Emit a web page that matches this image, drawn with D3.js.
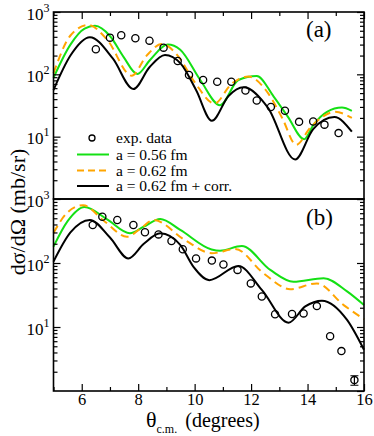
<!DOCTYPE html>
<html>
<head>
<meta charset="utf-8">
<script src="https://cdn.jsdelivr.net/npm/d3@7"></script>
<style>
  body { margin: 0; background: #fff; }
  svg text { font-family: "Liberation Serif", "DejaVu Serif", serif; fill: #000; }
</style>
</head>
<body>
<div id="chart"></div>
<script>
// --- data -----------------------------------------------------------------
var xDomain = [5, 16];
var yDomain = [1, 1000];
var xTickValues = [6, 8, 10, 12, 14, 16];
var xMinorValues = [5, 7, 9, 11, 13, 15];
var yDecades = [1, 10, 100, 1000];
var yLabelDecades = [10, 100, 1000];

// panel (a)
var expA_theta = [6.5, 7.0, 7.4, 7.9, 8.4, 8.9, 9.4, 9.8, 10.3, 10.8, 11.3, 11.8, 12.2, 12.7, 13.2, 13.7, 14.2, 14.6, 15.1];
var expA_sigma = [252, 388, 423, 379, 347, 268, 164, 98, 81, 76, 76, 55, 38, 30, 26, 17.3, 17.5, 15.6, 11.4];

var greenA_theta = [5.0, 5.6, 6.1, 6.47, 7.0, 7.48, 7.97, 8.42, 9.05, 9.49, 10.2, 10.9, 11.55, 12.2, 12.8, 13.3, 13.88, 14.21, 14.69, 15.22, 15.57];
var greenA_sigma = [88, 300, 540, 600, 412, 191, 101, 170, 300, 247, 81, 32, 81, 94, 44, 21, 9.1, 15.5, 25, 29.3, 26];

var orangeA_theta = [5.0, 5.6, 6.23, 6.9, 7.77, 8.3, 8.84, 9.4, 10.0, 10.7, 11.3, 11.9, 12.6, 13.1, 13.6, 14.1, 14.98, 15.57];
var orangeA_sigma = [104, 420, 620, 360, 95, 200, 306, 200, 75, 34, 70, 92, 50, 20, 7.4, 14, 25, 20];

var blackA_theta = [5.0, 5.6, 6.29, 7.1, 7.83, 8.4, 8.95, 9.5, 10.05, 10.61, 11.2, 11.73, 12.6, 13.56, 14.2, 14.95, 15.57];
var blackA_sigma = [56, 200, 393, 180, 58, 130, 205, 150, 56, 18, 45, 62, 29, 4.3, 13.2, 20.6, 12];

// panel (b)
var expB_theta = [6.39, 6.73, 7.26, 7.83, 8.24, 8.72, 9.18, 9.58, 10.05, 10.61, 11.02, 11.52, 11.99, 12.38, 12.85, 13.45, 13.86, 14.33, 14.8, 15.2, 15.66];
var expB_sigma = [393, 529, 471, 393, 302, 280, 221, 164, 118, 109, 95, 78, 48, 30, 15.8, 16, 16.3, 21.2, 7.2, 4.2, 1.48];
var expB_err = [0, 0, 0, 0, 0, 0, 0, 0, 0, 0, 0, 0, 0, 0, 0, 0, 0, 0, 0, 0, 0.25];

var greenB_theta = [5.0, 5.5, 6.1, 6.9, 7.71, 8.2, 8.78, 9.49, 10.6, 10.9, 11.67, 12.68, 13.5, 14.57, 15.4, 16.0];
var greenB_sigma = [180, 450, 750, 480, 291, 370, 487, 329, 163, 156, 184, 78, 51, 58, 36, 22];

var orangeB_theta = [5.0, 5.5, 6.05, 6.8, 7.6, 8.1, 8.54, 9.66, 10.61, 11.44, 12.44, 13.39, 14.33, 15.28, 16.0];
var orangeB_sigma = [295, 620, 800, 450, 258, 350, 470, 228, 142, 165, 69, 39, 48, 22, 13.2];

var blackB_theta = [5.0, 5.6, 6.29, 7.0, 7.65, 8.2, 8.78, 9.49, 9.96, 10.52, 11.55, 12.38, 13.33, 13.92, 14.51, 15.4, 16.0];
var blackB_sigma = [105, 300, 470, 250, 118, 200, 291, 192, 87, 54, 90, 38, 11.7, 21, 25.8, 12.9, 4.4];

var legendLabels = ["exp. data", "a = 0.56 fm", "a = 0.62 fm", "a = 0.62 fm + corr."];
var panelNames = ["(a)", "(b)"];

// --- layout -----------------------------------------------------------------
var width = 374, height = 436;
// (don't call it "top": window.top is read-only)
var plotLeft = 53.5, plotRight = 364, plotTop = 12, plotMid = 199, plotBottom = 391;
var GREEN = "#14e014", ORANGE = "#ffa500";

var svg = d3.select("#chart").append("svg")
  .attr("width", width)
  .attr("height", height);

var x = d3.scaleLinear().domain(xDomain).range([plotLeft, plotRight]);

function pairs(xs, ys) {
  return xs.map(function (d, i) { return [d, ys[i]]; });
}

function minorLogTicks() {
  var out = [];
  [1, 10, 100].forEach(function (p) {
    for (var k = 2; k <= 9; k++) out.push(k * p);
  });
  return out;
}

// draws one panel: frame, ticks, curves, data
function drawPanel(y0, y1, opt) {
  var y = d3.scaleLog().domain(yDomain).range([y1, y0]);
  var g = svg.append("g");

  var line = d3.line()
    .x(function (d) { return x(d[0]); })
    .y(function (d) { return y(d[1]); })
    .curve(d3.curveMonotoneX);

  // curves
  g.append("path").datum(pairs(opt.green[0], opt.green[1]))
    .attr("fill", "none").attr("stroke", GREEN).attr("stroke-width", 2).attr("d", line);
  g.append("path").datum(pairs(opt.orange[0], opt.orange[1]))
    .attr("fill", "none").attr("stroke", ORANGE).attr("stroke-width", 2)
    .attr("stroke-dasharray", "8,5").attr("d", line);
  g.append("path").datum(pairs(opt.black[0], opt.black[1]))
    .attr("fill", "none").attr("stroke", "#000").attr("stroke-width", 2).attr("d", line);

  // exp. data
  var pts = opt.exp[0].map(function (t, i) {
    return { t: t, s: opt.exp[1][i], e: opt.err ? opt.err[i] : 0 };
  });
  var withErr = pts.filter(function (d) { return d.e > 0; });
  g.selectAll(".err").data(withErr).join("path")
    .attr("class", "err")
    .attr("fill", "none").attr("stroke", "#000").attr("stroke-width", 1.2)
    .attr("d", function (d) {
      var cx = x(d.t), ya = y(d.s + d.e), yb = y(d.s - d.e);
      return "M" + cx + "," + ya + "V" + yb +
        "M" + (cx - 4) + "," + ya + "H" + (cx + 4) +
        "M" + (cx - 4) + "," + yb + "H" + (cx + 4);
    });
  g.selectAll("circle").data(pts).join("circle")
    .attr("cx", function (d) { return x(d.t); })
    .attr("cy", function (d) { return y(d.s); })
    .attr("r", 3.6)
    .attr("fill", "none")
    .attr("stroke", "#000")
    .attr("stroke-width", 1.3);

  // y axes, ticks inward
  var yl = g.append("g").attr("transform", "translate(" + plotLeft + ",0)")
    .call(d3.axisLeft(y).tickValues(yLabelDecades).tickSize(-7).tickSizeOuter(0).tickPadding(4));
  yl.call(function (a) { a.select(".domain").remove(); });
  yl.selectAll(".tick text").each(function (d) {
    var t = d3.select(this).text("").attr("dy", null).attr("y", 7)
      .style("font-size", "17px");
    t.append("tspan").text("10");
    t.append("tspan").text(Math.round(Math.log10(d)))
      .attr("dy", -8).style("font-size", "12px");
  });
  g.append("g").attr("transform", "translate(" + plotLeft + ",0)")
    .call(d3.axisLeft(y).tickValues(minorLogTicks()).tickSize(-4).tickSizeOuter(0).tickFormat(""))
    .call(function (a) { a.select(".domain").remove(); });

  g.append("g").attr("transform", "translate(" + plotRight + ",0)")
    .call(d3.axisRight(y).tickValues(yDecades).tickSize(-7).tickSizeOuter(0).tickFormat(""))
    .call(function (a) { a.select(".domain").remove(); });
  g.append("g").attr("transform", "translate(" + plotRight + ",0)")
    .call(d3.axisRight(y).tickValues(minorLogTicks()).tickSize(-4).tickSizeOuter(0).tickFormat(""))
    .call(function (a) { a.select(".domain").remove(); });

  g.selectAll(".tick line").attr("stroke", "#000").attr("stroke-width", 1.2);

  // frame
  g.append("rect")
    .attr("x", plotLeft).attr("y", y0)
    .attr("width", plotRight - plotLeft).attr("height", y1 - y0)
    .attr("fill", "none").attr("stroke", "#000").attr("stroke-width", 1.6);

  // panel tag
  g.append("text").attr("x", 306).attr("y", opt.tagY)
    .style("font-size", "23px").text(opt.tag);

  return { g: g, y: y };
}

var pa = drawPanel(plotTop, plotMid, {
  green: [greenA_theta, greenA_sigma],
  orange: [orangeA_theta, orangeA_sigma],
  black: [blackA_theta, blackA_sigma],
  exp: [expA_theta, expA_sigma],
  tag: panelNames[0], tagY: 37
});

var pb = drawPanel(plotMid, plotBottom, {
  green: [greenB_theta, greenB_sigma],
  orange: [orangeB_theta, orangeB_sigma],
  black: [blackB_theta, blackB_sigma],
  exp: [expB_theta, expB_sigma],
  err: expB_err,
  tag: panelNames[1], tagY: 225
});

// top x ticks of panel (a)
var xt = svg.append("g").attr("transform", "translate(0," + plotTop + ")");
xt.append("g").call(d3.axisTop(x).tickValues(xTickValues).tickSize(-7).tickSizeOuter(0).tickFormat(""));
xt.append("g").call(d3.axisTop(x).tickValues(xMinorValues).tickSize(-4).tickSizeOuter(0).tickFormat(""));
xt.selectAll(".domain").remove();

// bottom x axis of panel (b)
var xb = svg.append("g").attr("transform", "translate(0," + plotBottom + ")");
xb.append("g").call(d3.axisBottom(x).tickValues(xTickValues).tickSize(-7).tickSizeOuter(0).tickPadding(2))
  .selectAll("text").style("font-size", "16.5px");
xb.append("g").call(d3.axisBottom(x).tickValues(xMinorValues).tickSize(-4).tickSizeOuter(0).tickFormat(""));
xb.selectAll(".domain").remove();
svg.selectAll(".tick line").attr("stroke", "#000").attr("stroke-width", 1.2);

// axis titles
var xl = svg.append("text").attr("x", 146).attr("y", 427);
xl.append("tspan").style("font-size", "22px").text("θ");
xl.append("tspan").style("font-size", "12px").attr("dy", 6).text("c.m.");
xl.append("tspan").style("font-size", "20px").attr("dy", -6).attr("dx", 8).text("(degrees)");

svg.append("text")
  .attr("transform", "translate(25,212) rotate(-90)")
  .attr("text-anchor", "middle")
  .style("font-size", "22px")
  .text("dσ/dΩ (mb/sr)");

// legend (sits inside panel a)
var leg = svg.append("g");
leg.append("circle").attr("cx", 92).attr("cy", 138).attr("r", 3)
  .attr("fill", "none").attr("stroke", "#000").attr("stroke-width", 1.3);
var legLines = [
  { y: 154.5, c: GREEN, dash: null },
  { y: 170.5, c: ORANGE, dash: "7,4" },
  { y: 186, c: "#000", dash: null }
];
leg.selectAll("line").data(legLines).join("line")
  .attr("x1", 77).attr("x2", 109)
  .attr("y1", function (d) { return d.y; }).attr("y2", function (d) { return d.y; })
  .attr("stroke", function (d) { return d.c; })
  .attr("stroke-width", 2)
  .attr("stroke-dasharray", function (d) { return d.dash; });
var legY = [142.5, 159.5, 175.5, 191];
leg.selectAll("text").data(legendLabels).join("text")
  .attr("x", 116)
  .attr("y", function (d, i) { return legY[i]; })
  .style("font-size", "15.5px")
  .text(function (d) { return d; });
</script>
</body>
</html>
